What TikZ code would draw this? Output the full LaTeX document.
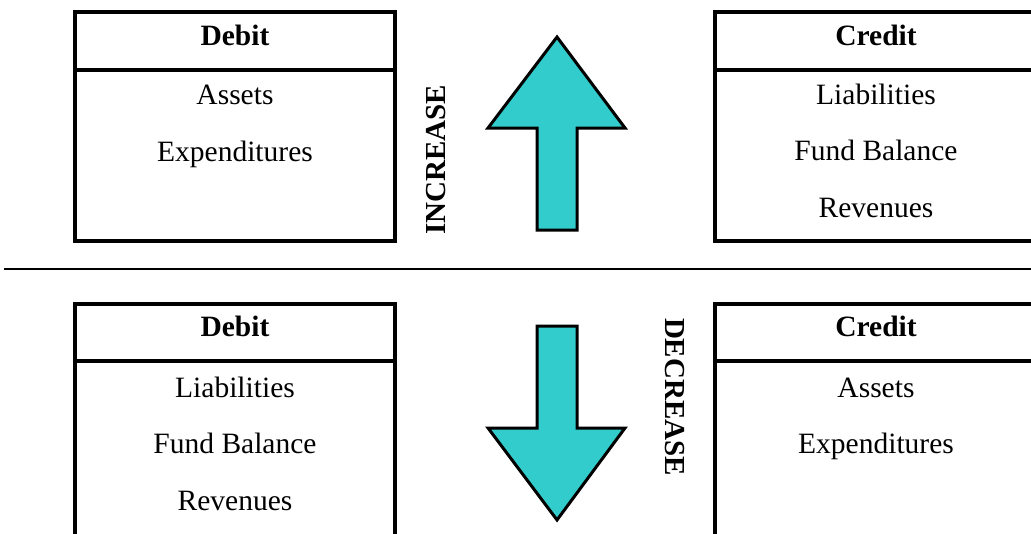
\documentclass[tikz,border=0pt]{standalone}
\usepackage{fontspec}
\setmainfont{Liberation Serif}
\definecolor{arrowfill}{RGB}{51,204,204}
\begin{document}
\begin{tikzpicture}[x=1pt,y=-1pt,
  boxline/.style={draw=black,line width=4pt},
  arrowshape/.style={draw=black,line width=3pt,fill=arrowfill,line join=miter},
  txt/.style={anchor=base,inner sep=0pt,font=\fontsize{29.5}{35}\selectfont},
  head/.style={txt,font=\fontsize{29.5}{35}\selectfont\bfseries},
  vlabel/.style={anchor=base,inner sep=0pt,font=\fontsize{29}{35}\selectfont\bfseries}]
\clip (0,0) rectangle (1031,533);
\fill[white] (0,0) rectangle (1031,533);
% top boxes
\draw[boxline] (75,12) rectangle (395,241);
\draw[boxline] (75,70) -- (395,70);
\draw[boxline] (715,12) rectangle (1037,241);
\draw[boxline] (715,70) -- (1037,70);
% bottom boxes
\draw[boxline] (75,304) rectangle (395,570);
\draw[boxline] (75,361) -- (395,361);
\draw[boxline] (715,304) rectangle (1037,570);
\draw[boxline] (715,361) -- (1037,361);
% separator
\draw[line width=2.5pt] (4,269) -- (1031,269);
% arrows
\draw[arrowshape] (557,37) -- (625,128) -- (577,128) -- (577,230) -- (537,230) -- (537,128) -- (488,128) -- cycle;
\draw[arrowshape] (537,326) -- (577,326) -- (577,428) -- (625,428) -- (557,520) -- (488,428) -- (537,428) -- cycle;
% texts top
\node[head] (d1) at (235,45) {Debit};
\node[txt] (d1a) at (235,104) {Assets};
\node[txt] (d1b) at (235,161) {Expenditures};
\node[head] (c1) at (876,45) {Credit};
\node[txt] (c1a) at (876,104) {Liabilities};
\node[txt] (c1b) at (876,160.5) {Fund Balance};
\node[txt] (c1c) at (876,217) {Revenues};
% texts bottom
\node[head] (d2) at (235,336) {Debit};
\node[txt] (d2a) at (235,397) {Liabilities};
\node[txt] (d2b) at (235,453) {Fund Balance};
\node[txt] (d2c) at (235,510) {Revenues};
\node[head] (c2) at (876,336) {Credit};
\node[txt] (c2a) at (876,397) {Assets};
\node[txt] (c2b) at (876,453) {Expenditures};
% vertical labels
\node[vlabel,rotate=90] (inc) at (445,160) {INCREASE};
\node[vlabel,rotate=-90] (dec) at (665,397) {DECREASE};
\end{tikzpicture}
\end{document}
